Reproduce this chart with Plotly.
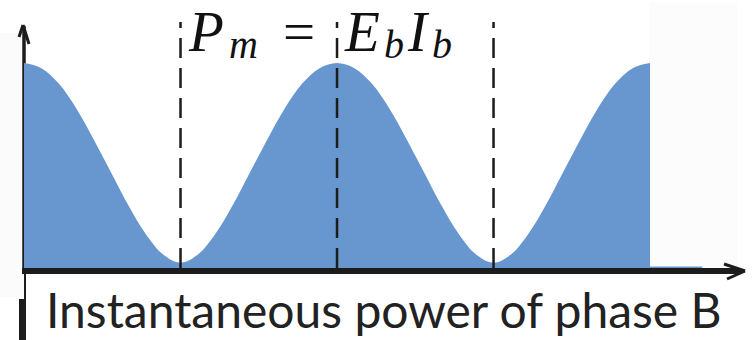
import plotly.graph_objects as go

# ---- data ----
phase_deg = [0, 10, 20, 30, 40, 50, 60, 70, 80, 90,
             100, 110, 120, 130, 140, 150, 160, 170, 180,
             190, 200, 210, 220, 230, 240, 250, 260, 270,
             280, 290, 300, 310, 320, 330, 340, 350, 360]
power_b = [1.00, 0.975, 0.90, 0.78, 0.63, 0.47, 0.31, 0.17, 0.07, 0.03,
           0.07, 0.17, 0.31, 0.47, 0.63, 0.78, 0.90, 0.975, 1.00,
           0.975, 0.90, 0.78, 0.63, 0.47, 0.31, 0.17, 0.07, 0.03,
           0.07, 0.17, 0.31, 0.47, 0.63, 0.78, 0.90, 0.975, 1.00]
tail_phase = [360, 390]
tail_power = [0.012, 0.012]
marker_phases = [90, 180, 270]

# title pieces: (text, is_subscript)
title_parts = [("P", False), ("m", True), ("=", False), ("E", False), ("b", True), ("I", False), ("b", True)]
title_centers_px = [206, 243, 299, 362, 394, 418, 442]
xlabel = "Instantaneous power of phase B"

W, H = 754, 340
X0, KX = 24.0, 1.739          # px of phase 0, px per degree
Y0, KY = 269.0, 206.0         # px of power 0, px per unit
def px_x(p):
    return (p - X0) / KX
def px_y(p):
    return (Y0 - p) / KY

FILL = "rgb(103,151,206)"
INK = "#1c1c1c"

fig = go.Figure()
fig.add_trace(go.Scatter(x=phase_deg, y=power_b, mode="lines",
                         line=dict(shape="spline", width=0, color=FILL),
                         fill="tozeroy", fillcolor=FILL, hoverinfo="skip"))
fig.add_trace(go.Scatter(x=tail_phase, y=tail_power, mode="lines",
                         line=dict(width=0, color=FILL),
                         fill="tozeroy", fillcolor=FILL, hoverinfo="skip"))

shapes = []
shapes.append(dict(type="rect", xref="x", yref="y", x0=px_x(0), x1=px_x(24), y0=px_y(297), y1=px_y(33),
                   fillcolor="#fbfbfb", line=dict(width=0), layer="below"))
shapes.append(dict(type="rect", xref="x", yref="y", x0=px_x(649), x1=px_x(737), y0=px_y(267), y1=px_y(2),
                   fillcolor="#fcfcfc", line=dict(width=0), layer="below"))
# y axis
shapes.append(dict(type="line", xref="x", yref="y", x0=px_x(24), x1=px_x(24), y0=px_y(271), y1=px_y(26),
                   line=dict(color=INK, width=3.5), layer="below"))
shapes.append(dict(type="line", xref="x", yref="y", x0=px_x(23), x1=px_x(19), y0=px_y(25), y1=px_y(37),
                   line=dict(color=INK, width=3)))
shapes.append(dict(type="line", xref="x", yref="y", x0=px_x(23), x1=px_x(29), y0=px_y(25), y1=px_y(44),
                   line=dict(color=INK, width=3)))
# x axis
shapes.append(dict(type="line", xref="x", yref="y", x0=px_x(22), x1=px_x(741), y0=px_y(271), y1=px_y(271),
                   line=dict(color=INK, width=6)))
shapes.append(dict(type="line", xref="x", yref="y", x0=px_x(745), x1=px_x(724), y0=px_y(271), y1=px_y(264),
                   line=dict(color=INK, width=3)))
shapes.append(dict(type="line", xref="x", yref="y", x0=px_x(745), x1=px_x(727), y0=px_y(271), y1=px_y(279),
                   line=dict(color=INK, width=3)))
# left bottom marks
shapes.append(dict(type="line", xref="x", yref="y", x0=px_x(25), x1=px_x(25), y0=px_y(271), y1=px_y(340),
                   line=dict(color=INK, width=2)))
shapes.append(dict(type="rect", xref="x", yref="y", x0=px_x(19), x1=px_x(24), y0=px_y(340), y1=px_y(299),
                   fillcolor=INK, line=dict(width=0)))
# dashed phase markers
for p in marker_phases:
    shapes.append(dict(type="line", xref="x", yref="y", x0=p, x1=p, y0=px_y(268), y1=px_y(22),
                       line=dict(color=INK, width=2.5, dash="20px,10px")))

annotations = []
MAIN_SIZE, SUB_SIZE = 57, 40
for (txt, is_sub), cx in zip(title_parts, title_centers_px):
    if is_sub:
        size, baseline = SUB_SIZE, 59
    else:
        size, baseline = MAIN_SIZE, 51
    bottom = baseline + 0.24 * size
    annotations.append(dict(text="<i>%s</i>" % txt if txt != "=" else txt,
                            x=cx / W, y=1 - bottom / H, xref="paper", yref="paper",
                            xanchor="center", yanchor="bottom", showarrow=False,
                            font=dict(family="Liberation Serif", size=size, color="#111")))
annotations.append(dict(text=xlabel, x=384 / W, y=0.0, xref="paper", yref="paper",
                        xanchor="center", yanchor="bottom", showarrow=False,
                        font=dict(family="Lato", size=48, color="#222")))

fig.update_layout(
    width=W, height=H, margin=dict(l=0, r=0, t=0, b=0),
    paper_bgcolor="white", plot_bgcolor="white", showlegend=False,
    xaxis=dict(range=[px_x(0), px_x(W)], visible=False, fixedrange=True),
    yaxis=dict(range=[px_y(H), px_y(0)], visible=False, fixedrange=True),
    shapes=shapes, annotations=annotations,
)
fig.write_html("out.html", config={"displayModeBar": False},
               post_script="document.body.style.margin='0';document.body.style.overflow='hidden';")
